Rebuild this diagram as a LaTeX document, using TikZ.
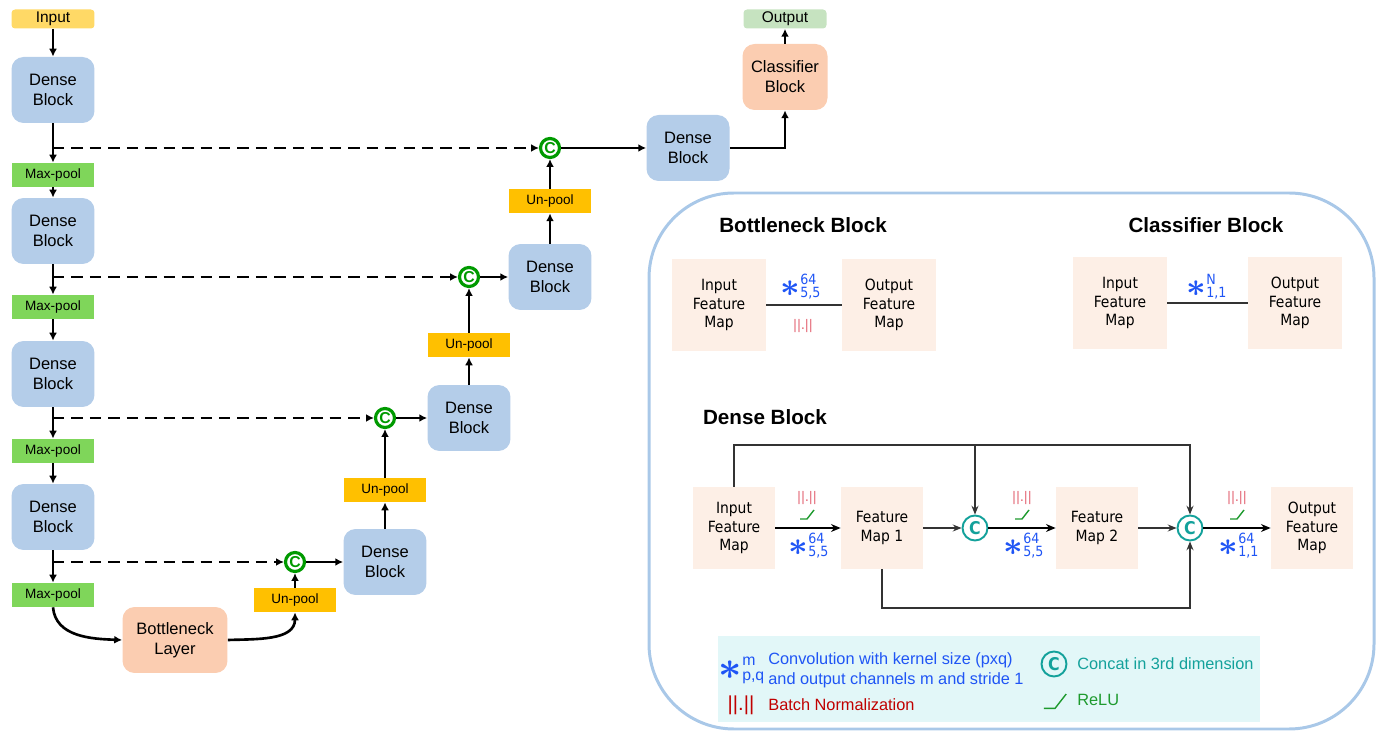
\documentclass[tikz,border=0pt]{standalone}
\usepackage{amsmath}
\usepackage{fontspec}
\setmainfont{Liberation Sans}
\newfontfamily\condfont{DejaVu Sans Condensed}
\usetikzlibrary{arrows.meta,positioning}
\definecolor{inyellow}{HTML}{FFD966}
\definecolor{denseblue}{HTML}{B4CDE9}
\definecolor{poolgreen}{HTML}{7FD65A}
\definecolor{unpoolyellow}{HTML}{FFC000}
\definecolor{peachfill}{HTML}{FBCDB1}
\definecolor{outgreen}{HTML}{C6E3C0}
\definecolor{catgreen}{HTML}{009A00}
\definecolor{panelblue}{HTML}{A9C8E8}
\definecolor{fmapfill}{HTML}{FDEFE6}
\definecolor{catteal}{HTML}{13A19B}
\definecolor{convblue}{HTML}{1F55F5}
\definecolor{bnred}{HTML}{E05565}
\definecolor{bndark}{HTML}{C00000}
\definecolor{relugreen}{HTML}{1E9A2E}
\definecolor{legfill}{HTML}{E2F7F8}
\definecolor{linkgray}{HTML}{333333}
\tikzset{%
	dense/.style     = {rectangle, rounded corners=0.24cm, fill=denseblue, minimum width=1.66cm, minimum height=1.32cm, align=center, font=\fontsize{9.4}{11.4}\selectfont},
	peach/.style     = {dense, fill=peachfill},
	pool/.style      = {rectangle, minimum width=1.66cm, minimum height=0.48cm, inner sep=0pt, font=\fontsize{7.7}{9}\selectfont},
	maxpool/.style   = {pool, fill=poolgreen},
	unpool/.style    = {pool, fill=unpoolyellow},
	terminal/.style  = {rectangle, rounded corners=2pt, minimum width=1.66cm, minimum height=0.38cm, inner sep=0pt, font=\fontsize{8.8}{10}\selectfont},
	cat/.style       = {circle, draw=catgreen, line width=1.8pt, inner sep=0pt, minimum size=0.38cm, text=catgreen, font=\bfseries\fontsize{9}{9}\selectfont},
	arrow/.style     = {line width=1.5pt, -{Latex[length=4.5pt,width=4.5pt]}},
	skiplink/.style  = {arrow, dash pattern=on 6.5pt off 4pt},
	panel/.style     = {draw=panelblue, line width=1.7pt, rounded corners=1.7cm},
	heading/.style   = {font=\bfseries\fontsize{11.75}{14}\selectfont},
	fmap/.style      = {rectangle, fill=fmapfill, minimum width=1.88cm, minimum height=1.86cm, inner sep=0pt, align=center, font=\condfont\fontsize{8.8}{10.5}\selectfont},
	fmapsq/.style    = {fmap, minimum width=1.64cm, minimum height=1.64cm},
	tcat/.style      = {circle, draw=catteal, line width=1.1pt, inner sep=0pt, minimum size=0.5cm, text=catteal, font=\condfont\bfseries\fontsize{10}{10}\selectfont},
	link/.style      = {draw=linkgray, line width=0.9pt},
	thinarrow/.style = {draw=linkgray, line width=0.6pt, -{Stealth[length=5pt,width=4pt]}},
	fatarrow/.style  = {draw=black, line width=1.1pt, -{Stealth[length=5.5pt,width=4.5pt]}},
	oplabel/.style   = {inner sep=0pt, text=convblue, font=\condfont\fontsize{8.8}{10}\selectfont},
	normlabel/.style = {inner sep=0pt, text=bnred, font=\condfont\fontsize{7.5}{9}\selectfont},
	legtext/.style   = {inner sep=0pt, font=\fontsize{9.3}{11.5}\selectfont},
	relu/.pic        = {\draw[relugreen, line width=0.8pt] (-7,4) -- (0,4) -- (7,-5);},
}
\newcommand{\convsym}[2]{\ensuremath{\vcenter{\hbox{\scalebox{2.1}{$\boldsymbol{\ast}$}}}^{\text{\fontsize{8}{8}\selectfont #1}}_{\text{\fontsize{8}{8}\selectfont #2}}}}
\newcommand{\legconvsym}[2]{\ensuremath{\vcenter{\hbox{\scalebox{2.5}{$\boldsymbol{\ast}$}}}^{\text{\fontsize{9}{9}\selectfont #1}}_{\text{\fontsize{9}{9}\selectfont #2}}}}

\begin{document}
\begin{tikzpicture}[x=0.02cm,y=-0.02cm]
	\useasboundingbox (0,0) rectangle (1379,732);
	
	\node[terminal, fill=inyellow] (input) at (53,19) {Input};
	\node[dense] (dense1) at (53,90) {Dense\\Block};
	\node[maxpool] (pool1) at (53,175) {Max-pool};
	\node[dense] (dense2) at (53,231) {Dense\\Block};
	\node[maxpool] (pool2) at (53,307) {Max-pool};
	\node[dense] (dense3) at (53,374) {Dense\\Block};
	\node[maxpool] (pool3) at (53,451) {Max-pool};
	\node[dense] (dense4) at (53,517) {Dense\\Block};
	\node[maxpool] (pool4) at (53,595) {Max-pool};
	\node[peach, minimum width=2.1cm] (bottle) at (175,640) {Bottleneck\\Layer};
	
	\node[unpool] (unpool1) at (295,600) {Un-pool};
	\node[cat] (cat1) at (295,562) {C};
	\node[dense] (dense5) at (385,562) {Dense\\Block};
	\node[unpool] (unpool2) at (385,490) {Un-pool};
	\node[cat] (cat2) at (385,418) {C};
	\node[dense] (dense6) at (469,418) {Dense\\Block};
	\node[unpool] (unpool3) at (469,345) {Un-pool};
	\node[cat] (cat3) at (469,277) {C};
	\node[dense] (dense7) at (550,277) {Dense\\Block};
	\node[unpool] (unpool4) at (550,201) {Un-pool};
	\node[cat] (cat4) at (550,148) {C};
	\node[dense] (dense8) at (688,148) {Dense\\Block};
	\node[peach, minimum width=1.7cm] (classify) at (785,77) {Classifier\\Block};
	\node[terminal, fill=outgreen] (output) at (785,19) {Output};
	
	\coordinate (tap1) at (53,148);
	\coordinate (tap2) at (53,277);
	\coordinate (tap3) at (53,418);
	\coordinate (tap4) at (53,562);
	
	\draw[arrow] (input) -- (dense1);
	\draw[arrow] (dense1) -- (pool1);
	\draw[arrow] (pool1) -- (dense2);
	\draw[arrow] (dense2) -- (pool2);
	\draw[arrow] (pool2) -- (dense3);
	\draw[arrow] (dense3) -- (pool3);
	\draw[arrow] (pool3) -- (dense4);
	\draw[arrow] (dense4) -- (pool4);
	\draw[arrow] (pool4.south) to[out=-85,in=178] (bottle.west);
	\draw[arrow] (bottle.east) to[out=2,in=-90] (unpool1.south);
	\draw[arrow] (unpool1) -- (cat1);
	\draw[arrow] (cat1) -- (dense5);
	\draw[arrow] (dense5) -- (unpool2);
	\draw[arrow] (unpool2) -- (cat2);
	\draw[arrow] (cat2) -- (dense6);
	\draw[arrow] (dense6) -- (unpool3);
	\draw[arrow] (unpool3) -- (cat3);
	\draw[arrow] (cat3) -- (dense7);
	\draw[arrow] (dense7) -- (unpool4);
	\draw[arrow] (unpool4) -- (cat4);
	\draw[arrow] (cat4) -- (dense8);
	\draw[arrow] (dense8) -| (classify);
	\draw[arrow] (classify) -- (output);
	
	\draw[skiplink] (tap1) -- (cat4);
	\draw[skiplink] (tap2) -- (cat3);
	\draw[skiplink] (tap3) -- (cat2);
	\draw[skiplink] (tap4) -- (cat1);
	
	\draw[panel] (649,193) rectangle (1374,729);
	
	\node[heading] (bnhead) at (803,225) {Bottleneck Block};
	\node[heading] (clhead) at (1206,225) {Classifier Block};
	\node[heading] (dbhead) at (765,417) {Dense Block};
	
	\node[fmap] (bnin) at (719,305) {Input\\Feature\\Map};
	\node[fmap] (bnout) at (889,305) {Output\\Feature\\Map};
	\draw[link] (bnin) -- (bnout);
	\node[oplabel] (bnconv) at (801,287) {\convsym{64}{5,5}};
	\node[normlabel] (bnnorm) at (803,326) {||.||};
	
	\node[fmap] (clin) at (1120,303) {Input\\Feature\\Map};
	\node[fmap] (clout) at (1295,303) {Output\\Feature\\Map};
	\draw[link] (clin) -- (clout);
	\node[oplabel] (clconv) at (1207,287) {\convsym{N}{1,1}};
	
	\node[fmapsq] (dbin) at (734,528) {Input\\Feature\\Map};
	\node[fmapsq] (map1) at (882,528) {Feature\\Map 1};
	\node[fmapsq] (map2) at (1097,528) {Feature\\Map 2};
	\node[fmapsq] (dbout) at (1312,528) {Output\\Feature\\Map};
	\node[tcat] (join1) at (975,528) {C};
	\node[tcat] (join2) at (1190,528) {C};
	\coordinate (rail) at (734,445);
	\coordinate (floor) at (882,608);
	
	\draw[thinarrow] (dbin) -- (rail) -| (join2);
	\draw[thinarrow] (rail -| join1) -- (join1);
	\draw[thinarrow] (map1) -- (floor) -| (join2);
	\draw[thinarrow] (map1) -- (join1);
	\draw[thinarrow] (map2) -- (join2);
	\draw[fatarrow] (dbin) -- (map1);
	\draw[fatarrow] (join1) -- (map2);
	\draw[fatarrow] (join2) -- (dbout);
	
	\node[normlabel] (norm1) at (807,498) {||.||};
	\pic at (807,515) {relu};
	\node[oplabel] (conv1) at (809,546) {\convsym{64}{5,5}};
	\node[normlabel] (norm2) at (1022,498) {||.||};
	\pic at (1022,515) {relu};
	\node[oplabel] (conv2) at (1024,546) {\convsym{64}{5,5}};
	\node[normlabel] (norm3) at (1237,498) {||.||};
	\pic at (1237,515) {relu};
	\node[oplabel] (conv3) at (1239,546) {\convsym{64}{1,1}};
	
	\fill[legfill] (718,636) rectangle (1260,722);
	\node[legtext, text=convblue] (legconvsym) at (742,670) {\legconvsym{m}{p,q}};
	\node[legtext, text=convblue, anchor=west, align=left] (legconv) at (768,670) {Convolution with kernel size (pxq)\\and output channels m and stride 1};
	\node[legtext, text=bndark, font=\fontsize{11.5}{12}\selectfont] (legnormsym) at (741,705) {||.||};
	\node[legtext, text=bndark, anchor=west] (legnorm) at (768,705) {Batch Normalization};
	\node[tcat] (legcat) at (1054,664) {C};
	\node[legtext, text=catteal, anchor=west] (legcattext) at (1077,664) {Concat in 3rd dimension};
	\pic[scale=1.6] at (1055,702) {relu};
	\node[legtext, text=relugreen, anchor=west] (legrelu) at (1077,700) {ReLU};
\end{tikzpicture}
\end{document}
